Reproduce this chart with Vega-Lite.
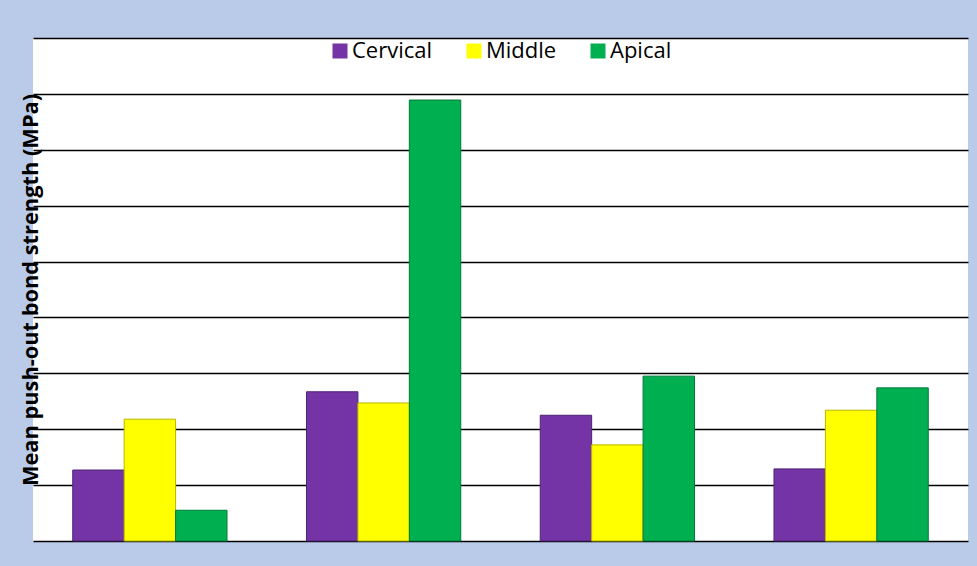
{
  "$schema": "https://vega.github.io/schema/vega-lite/v6.json",
  "width": 935,
  "height": 503,
  "autosize": {"type": "none"},
  "padding": {"left": 33, "top": 38, "right": 9, "bottom": 25},
  "background": "#BACBEA",
  "data": {
    "values": [
      {"group": "Group 1", "region": "Cervical", "value": 1.27},
      {"group": "Group 1", "region": "Middle", "value": 2.18},
      {"group": "Group 1", "region": "Apical", "value": 0.55},
      {"group": "Group 2", "region": "Cervical", "value": 2.67},
      {"group": "Group 2", "region": "Middle", "value": 2.47},
      {"group": "Group 2", "region": "Apical", "value": 7.89},
      {"group": "Group 3", "region": "Cervical", "value": 2.25},
      {"group": "Group 3", "region": "Middle", "value": 1.72},
      {"group": "Group 3", "region": "Apical", "value": 2.95},
      {"group": "Group 4", "region": "Cervical", "value": 1.29},
      {"group": "Group 4", "region": "Middle", "value": 2.34},
      {"group": "Group 4", "region": "Apical", "value": 2.74}
    ]
  },
  "mark": {"type": "bar", "strokeWidth": 1},
  "encoding": {
    "x": {
      "field": "group",
      "type": "nominal",
      "sort": null,
      "scale": {"paddingInner": 0.34, "paddingOuter": 0.17},
      "axis": {"title": null, "labels": false, "ticks": false, "domain": false, "grid": false}
    },
    "xOffset": {
      "field": "region",
      "type": "nominal",
      "sort": ["Cervical", "Middle", "Apical"]
    },
    "y": {
      "field": "value",
      "type": "quantitative",
      "scale": {"domain": [0, 9], "nice": false},
      "axis": {
        "title": "Mean push-out bond strength (MPa)",
        "titleFont": "Open Sans",
        "titleFontSize": 21.8,
        "titleFontWeight": "bold",
        "titleColor": "#000000",
        "titlePadding": -9,
        "labels": false,
        "ticks": false,
        "domain": false,
        "grid": true,
        "gridColor": "#000000",
        "gridWidth": 1.5,
        "gridOpacity": 1,
        "values": [0, 1, 2, 3, 4, 5, 6, 7, 8, 9]
      }
    },
    "color": {
      "field": "region",
      "type": "nominal",
      "sort": ["Cervical", "Middle", "Apical"],
      "scale": {"domain": ["Cervical", "Middle", "Apical"], "range": ["#7434A6", "#FFFF00", "#00B050"]},
      "legend": {
        "title": null,
        "orient": "none",
        "direction": "horizontal",
        "legendX": 296,
        "legendY": 2,
        "symbolType": "square",
        "symbolSize": 225,
        "symbolStrokeWidth": 0,
        "symbolOpacity": 1,
        "labelFont": "Open Sans",
        "labelFontSize": 22,
        "labelColor": "#000000",
        "columnPadding": 30,
        "labelOffset": 1
      }
    },
    "stroke": {
      "field": "region",
      "type": "nominal",
      "scale": {"domain": ["Cervical", "Middle", "Apical"], "range": ["#4E2272", "#B8B800", "#007A38"]},
      "legend": null
    }
  },
  "config": {
    "view": {"stroke": null, "fill": "#FFFFFF"}
  }
}
